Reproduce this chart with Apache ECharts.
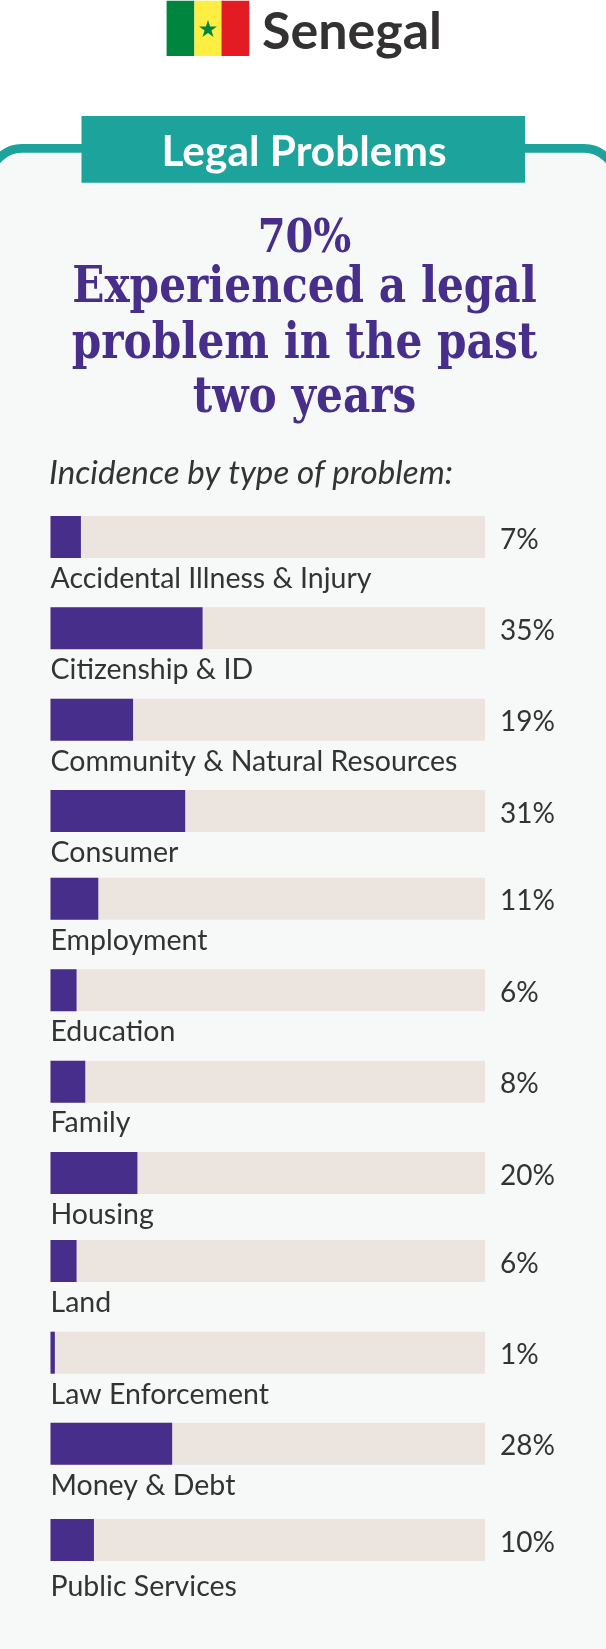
<!DOCTYPE html>
<html><head><meta charset="utf-8">
<style>html,body{margin:0;padding:0;background:#fff}#c{width:606px;height:1649px}</style>
<script src="https://cdn.jsdelivr.net/npm/echarts@6/dist/echarts.min.js"></script>
</head><body><div id="c"></div>
<script>
const categories=['Accidental Illness & Injury','Citizenship & ID','Community & Natural Resources','Consumer','Employment','Education','Family','Housing','Land','Law Enforcement','Money & Debt','Public Services'];
const incidence=[7,35,19,31,11,6,8,20,6,1,28,10];
const titleLines=['70%','Experienced a legal','problem in the past','two years'];
const rowTops=[516,607.3,698.7,790,877.7,969.3,1060.7,1152,1240,1331.7,1422.7,1519];
const labelOffsets=[0,0,0.8,0,1,0,0,0,0,0.8,0.8,5];
const PURPLE='#482e8b',TRACK='#ece4de',TEAL='#1ba39c',PANEL='#f7f9f9',INK='#333333';
const grid=[],xAxis=[],yAxis=[],series=[];
categories.forEach((name,i)=>{
  grid.push({left:50.5,width:434.5,top:rowTops[i],height:42});
  xAxis.push({gridIndex:i,type:'value',min:0,max:100,show:false});
  yAxis.push({gridIndex:i,type:'category',data:[name],show:false});
  series.push({type:'bar',xAxisIndex:i,yAxisIndex:i,data:[100],barWidth:42,barGap:'-100%',silent:true,
    itemStyle:{color:TRACK},z:2,
    label:{show:true,position:'right',distance:15,formatter:()=>incidence[i]+'%',
      fontFamily:'Lato',fontSize:28,color:INK,offset:[0,2.5]}});
  series.push({type:'bar',xAxisIndex:i,yAxisIndex:i,data:[incidence[i]],barWidth:42,barGap:'-100%',silent:true,
    itemStyle:{color:PURPLE},z:3,
    label:{show:true,position:[0,62.5+labelOffsets[i]],formatter:()=>name,align:'left',verticalAlign:'middle',
      fontFamily:'Lato',fontSize:28.5,color:INK}});
});
function txt(text,x,y,font,fill,sx){
  return {type:'text',x:x,y:y,scaleX:sx||1,z:5,style:{text:text,x:0,y:0,font:font,fill:fill,textAlign:'center',textVerticalAlign:'middle'}};
}
const star=[];
for(let k=0;k<10;k++){const r=k%2?3.6:9.4,a=-Math.PI/2+k*Math.PI/5;star.push([208+r*Math.cos(a),29.5+r*Math.sin(a)]);}
const graphic=[
  {type:'rect',shape:{x:-10,y:148.4,width:626,height:1560,r:32},style:{fill:PANEL,stroke:TEAL,lineWidth:8.7},z:1},
  {type:'rect',shape:{x:81.5,y:116,width:443.5,height:66.7},style:{fill:TEAL},z:2},
  {type:'rect',shape:{x:166.6,y:0.7,width:27.8,height:55.3},style:{fill:'#00853f'},z:2},
  {type:'rect',shape:{x:194.4,y:0.7,width:27.1,height:55.3},style:{fill:'#fdef42'},z:2},
  {type:'rect',shape:{x:221.5,y:0.7,width:27.8,height:55.3},style:{fill:'#e31b23'},z:2},
  {type:'polygon',shape:{points:star},style:{fill:'#00853f'},z:3},
  txt('Senegal',352,32,'bold 52px Lato','#333132'),
  txt('Legal Problems',304,152,'bold 42.4px Lato','#ffffff'),
  txt(titleLines[0],304.5,240,'bold 46px "DejaVu Serif"',PURPLE,0.87),
  txt(titleLines[1],304.5,289,'bold 50px "DejaVu Serif"',PURPLE,0.845),
  txt(titleLines[2],304.5,345,'bold 50px "DejaVu Serif"',PURPLE,0.845),
  txt(titleLines[3],304.5,399.5,'bold 50px "DejaVu Serif"',PURPLE,0.845),
  {type:'text',x:49,y:473,z:5,style:{text:'Incidence by type of problem:',x:0,y:0,font:'italic 33.2px Lato',fill:INK,textAlign:'left',textVerticalAlign:'middle'}}
];
const chart=echarts.init(document.getElementById('c'),null,{renderer:'canvas'});
chart.setOption({animation:false,backgroundColor:'#ffffff',tooltip:{show:false},grid,xAxis,yAxis,series,graphic});
</script></body></html>
